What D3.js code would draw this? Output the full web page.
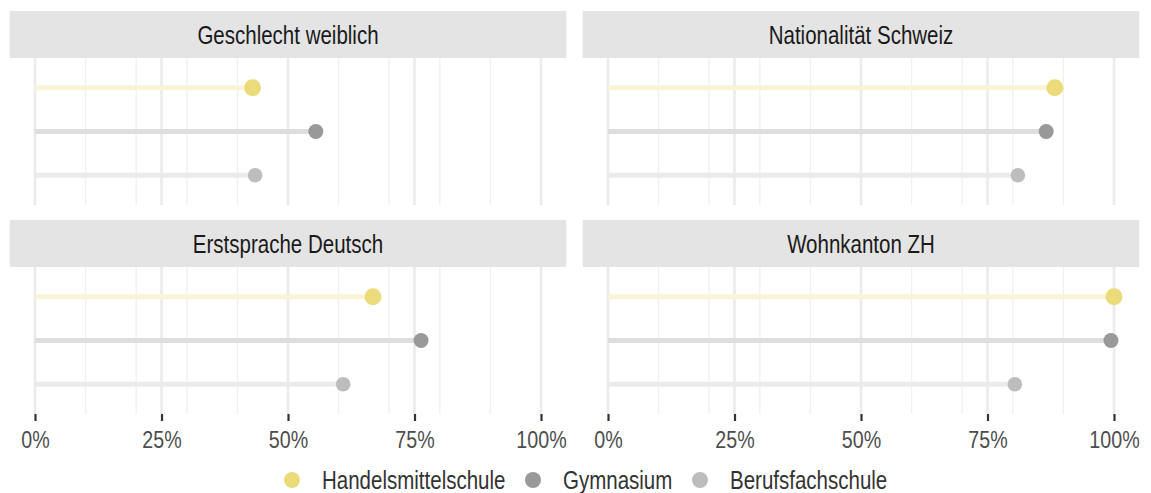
<!DOCTYPE html>
<html lang="de">
<head>
<meta charset="UTF-8">
<title>Lollipop facets</title>
<script src="https://cdn.jsdelivr.net/npm/d3@7/dist/d3.min.js"></script>
<style>
  body { margin: 0; background: #fff; }
  text { font-family: "Liberation Sans", Arial, sans-serif; }
</style>
</head>
<body>
<svg id="chart" width="1151" height="493"></svg>
<script>
// Daten
const panels = ["Geschlecht weiblich", "Nationalität Schweiz", "Erstsprache Deutsch", "Wohnkanton ZH"];
const schools = ["Handelsmittelschule", "Gymnasium", "Berufsfachschule"];
const hms = [0.43, 0.883, 0.668, 1.0];
const gym = [0.555, 0.866, 0.763, 0.994];
const bfs = [0.435, 0.81, 0.609, 0.804];
const majorTicks = [0, 0.25, 0.5, 0.75, 1];
const minorTicks = [0.1, 0.2, 0.3, 0.4, 0.6, 0.7, 0.8, 0.9];

const series = [hms, gym, bfs];
const dotColor = ["#ecdb7a", "#999999", "#bdbdbd"];
const lineColor = ["#f8f4d5", "#dedede", "#ebebeb"];
const dotR = [8.5, 7.5, 7.3];
const narrow = 0.82; // schmale Schrift nachbilden

const svg = d3.select("#chart");

// Text an Position x,y, horizontal gestaucht
function label(parent, x, y, txt, size, color, anchor) {
  return parent.append("text")
    .attr("transform", `translate(${x},${y}) scale(${narrow},1)`)
    .attr("text-anchor", anchor)
    .attr("font-size", size)
    .attr("fill", color)
    .text(txt);
}

// Layout der Facetten
const cols = [{ x0: 35, x1: 541 }, { x0: 608, x1: 1114 }];
const rows = [{ strip: 11, top: 58, bottom: 205 }, { strip: 220, top: 267, bottom: 414 }];

panels.forEach((title, i) => {
  const c = cols[i % 2], r = rows[Math.floor(i / 2)];
  const x = d3.scaleLinear().domain([0, 1]).range([c.x0, c.x1]);
  const y = d3.scalePoint().domain(schools).range([r.top, r.bottom]).padding(0.68);
  const g = svg.append("g");

  // Streifen
  g.append("rect")
    .attr("x", x(-0.05)).attr("y", r.strip)
    .attr("width", x(1.05) - x(-0.05)).attr("height", r.top - r.strip)
    .attr("fill", "#e4e4e4");
  label(g, (x(-0.05) + x(1.05)) / 2, (r.strip + r.top) / 2 + 9, title, 25, "#1a1a1a", "middle");

  // Gitter
  g.selectAll(".minor").data(minorTicks).enter().append("line")
    .attr("x1", d => x(d)).attr("x2", d => x(d))
    .attr("y1", r.top).attr("y2", r.bottom)
    .attr("stroke", "#f0f0f0").attr("stroke-width", 1.3);
  g.selectAll(".major").data(majorTicks).enter().append("line")
    .attr("x1", d => x(d)).attr("x2", d => x(d))
    .attr("y1", r.top).attr("y2", r.bottom)
    .attr("stroke", "#ebebeb").attr("stroke-width", 2.6);

  // Lollipops
  schools.forEach((s, k) => {
    const v = series[k][i];
    g.append("line")
      .attr("x1", x(0)).attr("x2", x(v))
      .attr("y1", y(s)).attr("y2", y(s))
      .attr("stroke", lineColor[k]).attr("stroke-width", 5);
  });
  schools.forEach((s, k) => {
    const v = series[k][i];
    g.append("circle")
      .attr("cx", x(v)).attr("cy", y(s)).attr("r", dotR[k])
      .attr("fill", dotColor[k]);
  });

  // Achse nur unten
  if (r === rows[1]) {
    const axis = d3.axisBottom(x).tickValues(majorTicks)
      .tickFormat(d3.format(".0%")).tickSize(7).tickPadding(10);
    const ax = svg.append("g").attr("transform", `translate(0,${r.bottom})`).call(axis);
    ax.select(".domain").remove();
    ax.selectAll(".tick line").attr("stroke", "#333").attr("stroke-width", 2.2);
    ax.selectAll(".tick text")
      .attr("font-size", 24).attr("fill", "#4d4d4d")
      .attr("font-family", null)
      .attr("transform", `scale(${narrow},1)`);
  }
});

// Legende
const legendX = [292, 533, 700];
const legend = svg.append("g");
schools.forEach((s, k) => {
  legend.append("circle").attr("cx", legendX[k]).attr("cy", 480).attr("r", 8).attr("fill", dotColor[k]);
  label(legend, legendX[k] + 30, 489, s, 25, "#333", "start");
});
</script>
</body>
</html>
